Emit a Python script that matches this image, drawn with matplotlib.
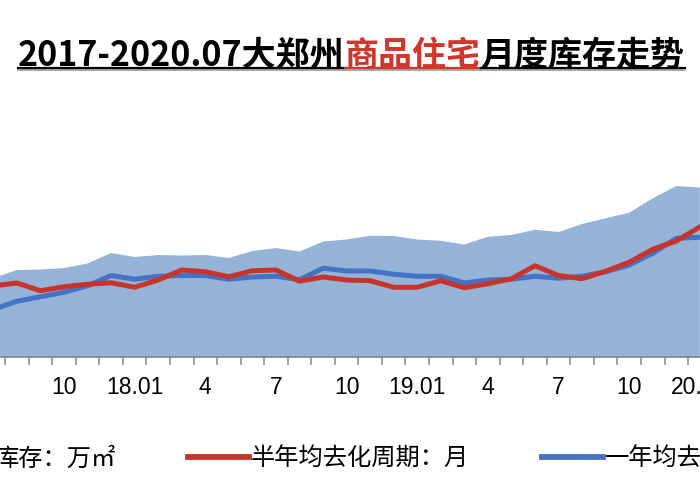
import matplotlib
matplotlib.use("Agg")
import matplotlib.pyplot as plt
from matplotlib.lines import Line2D
from matplotlib.patches import Patch
import numpy as np

plt.rcParams['font.family'] = ['Noto Sans CJK SC', 'DejaVu Sans']

# ---- data (visible window: 2017.07 - 2020.01) ----
months = ["17.07", "17.08", "17.09", "17.10", "17.11", "17.12",
          "18.01", "18.02", "18.03", "18.04", "18.05", "18.06",
          "18.07", "18.08", "18.09", "18.10", "18.11", "18.12",
          "19.01", "19.02", "19.03", "19.04", "19.05", "19.06",
          "19.07", "19.08", "19.09", "19.10", "19.11", "19.12",
          "20.01"]
inventory = [632, 696, 700, 712, 748, 832,
             800, 816, 812, 816, 792, 848,
             872, 844, 924, 940, 970, 968,
             940, 930, 900, 962, 976, 1018,
             1000, 1064, 1110, 1154, 1270, 1368,
             1356]
half_year = [5.68, 5.92, 5.30, 5.62, 5.82, 5.94,
             5.58, 6.16, 6.96, 6.82, 6.42, 6.90,
             6.96, 6.06, 6.40, 6.16, 6.10, 5.58,
             5.58, 6.10, 5.54, 5.86, 6.26, 7.30,
             6.52, 6.26, 6.86, 7.58, 8.62, 9.28,
             10.40]
one_year = [3.80, 4.46, 4.82, 5.18, 5.70, 6.52,
            6.22, 6.46, 6.52, 6.52, 6.22, 6.40,
            6.46, 6.18, 7.10, 6.88, 6.88, 6.62,
            6.46, 6.46, 5.92, 6.16, 6.22, 6.46,
            6.30, 6.46, 6.82, 7.36, 8.30, 9.50,
            9.58]
series_names = ["库存：万㎡", "半年均去化周期：月", "一年均去化周期：月"]
title_parts = [("2017-2020.07大郑州", "black"), ("商品住宅", "#D0362A"), ("月度库存走势", "black")]

AREA_C = "#95B3D7"
RED_C = "#C8342A"
BLUE_C = "#4472C4"

W, H = 700, 500
fig = plt.figure(figsize=(7, 5), dpi=100)

# category index: 2017.01 = 0 -> 2017.07 = 6
idx = np.arange(6, 6 + len(months))
XMIN, XMAX = 6.282, 36.006

ax = fig.add_axes([0, (H - 357) / H, 1, 250 / H])
ax.fill_between(idx, 0, inventory, color=AREA_C, lw=0, zorder=1)
ax.set_xlim(XMIN, XMAX)
ax.set_ylim(0, 2000)
ax.patch.set_alpha(0)

ax2 = ax.twinx()
ax2.plot(idx, half_year, color=RED_C, lw=3.6, solid_joinstyle='round', zorder=3)
ax2.plot(idx, one_year, color=BLUE_C, lw=3.6, solid_joinstyle='round', zorder=2)
ax2.set_ylim(0, 20)
ax2.set_xlim(XMIN, XMAX)

for a in (ax, ax2):
    for s in ("top", "left", "right"):
        a.spines[s].set_visible(False)
    a.set_yticks([])
ax2.spines["bottom"].set_visible(False)
ax.spines["bottom"].set_color("#888888")
ax.spines["bottom"].set_linewidth(1.3)

# x ticks: boundaries as minor ticks, labels at quarter months
ax.set_xticks(np.arange(6.5, 36.5, 1.0), minor=True)
lab_pos, lab_txt = [], []
for i, m in zip(idx, months):
    yy, mm = m.split(".")
    mm_i = int(mm)
    if mm_i in (1, 4, 7, 10) and XMIN < i:
        lab_pos.append(i)
        lab_txt.append(m if mm_i == 1 else str(mm_i))
ax.set_xticks(lab_pos)
ax.set_xticklabels(lab_txt, fontsize=16.5, family=['Liberation Sans', 'DejaVu Sans'], color='black')
ax.tick_params(axis='x', which='major', length=0, pad=13.5)
ax.tick_params(axis='x', which='minor', length=5.8, width=1.1, color='#888888', direction='out')

# ---- title with coloured part and underline ----
r = fig.canvas.get_renderer()
x = 18
base_y = H - 66
fs_title = 24.5
for s, c in title_parts:
    t = fig.text(x / W, base_y / H, s, color=c, fontsize=fs_title, fontweight='bold',
                 va='baseline', ha='left', family=['Noto Sans CJK SC', 'DejaVu Sans'])
    bb = t.get_window_extent(renderer=r)
    fig.add_artist(Line2D([bb.x0 / W, bb.x1 / W], [(H - 70) / H] * 2, transform=fig.transFigure,
                          color='#9a9a9a', lw=1.2))
    fig.add_artist(Line2D([bb.x0 / W, bb.x1 / W], [(H - 67.8) / H] * 2, transform=fig.transFigure,
                          color=c, lw=1.6))
    x = bb.x1

# ---- legend ----
handles = [Patch(facecolor=AREA_C, edgecolor='none'),
           Line2D([], [], color=RED_C, lw=4.2),
           Line2D([], [], color=BLUE_C, lw=4.2)]
fs_leg = 17.5
em = fs_leg * 100 / 72
anchor_x = -80.0
leg_y = 1 - 459 / H
leg = fig.legend(handles, series_names, loc='center left', bbox_to_anchor=(anchor_x / W, leg_y),
                 ncol=3, frameon=False, handlelength=61 / em,
                 handletextpad=2 / em, columnspacing=73 / em,
                 borderpad=0, borderaxespad=0,
                 prop={'family': ['Noto Sans CJK SC', 'DejaVu Sans'], 'size': fs_leg})
# shift so that the second entry's text starts where the reference has it
fig.canvas.draw()
tx0 = leg.get_texts()[1].get_window_extent(renderer=fig.canvas.get_renderer()).x0
anchor_x += 251 - tx0
leg.set_bbox_to_anchor((anchor_x / W, leg_y), transform=fig.transFigure)

fig.savefig("out.png", dpi=100)
